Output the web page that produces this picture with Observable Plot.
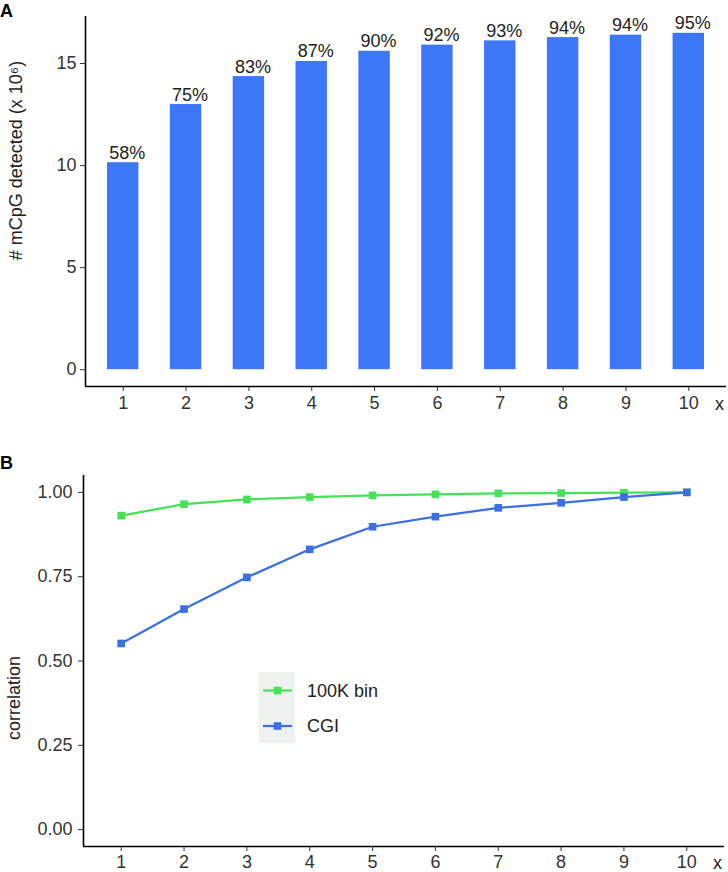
<!DOCTYPE html>
<html><head><meta charset="utf-8">
<script src="https://cdn.jsdelivr.net/npm/d3@7"></script>
<script src="https://cdn.jsdelivr.net/npm/@observablehq/plot@0.6"></script>
<style>
body{margin:0;background:#fff;}
#wrap{position:relative;width:728px;height:872px;font-family:"Liberation Sans",Arial,sans-serif;}
.panel{position:absolute;left:0;}
#overlay{position:absolute;left:0;top:0;pointer-events:none;}
</style></head><body>
<div id="wrap">
  <div class="panel" id="pa" style="top:0"></div>
  <div class="panel" id="pb" style="top:420px"></div>
</div>
<script>
// ---- data ----
const xs = [1, 2, 3, 4, 5, 6, 7, 8, 9, 10];
const counts = [10.14, 12.99, 14.36, 15.10, 15.60, 15.90, 16.11, 16.27, 16.39, 16.48];
const pctLabels = ["58%", "75%", "83%", "87%", "90%", "92%", "93%", "94%", "94%", "95%"];
const seriesNames = ["100K bin", "CGI"];
const bin100k = [0.931, 0.965, 0.979, 0.986, 0.991, 0.994, 0.997, 0.998, 0.999, 1.000];
const cgi = [0.552, 0.654, 0.748, 0.831, 0.898, 0.928, 0.954, 0.969, 0.986, 1.000];
const seriesColors = ["#46e256", "#3a70e2"];
const ticksA = [0, 5, 10, 15];
const ticksB = [0, 0.25, 0.5, 0.75, 1];
const yLabelA = "# mCpG detected (x 10\u2076)";
const yLabelB = "correlation";
const xLabel = "x";

const FONT = '"Liberation Sans", Arial, sans-serif';
const dataA = xs.map((x, i) => ({x, v: counts[i], pct: pctLabels[i]}));
const dataB = [
  ...xs.map((x, i) => ({x, v: bin100k[i], series: seriesNames[0]})),
  ...xs.map((x, i) => ({x, v: cgi[i], series: seriesNames[1]}))
];
const xDom = [xs[0] - 0.6, xs[xs.length - 1] + 0.6];
const maxA = d3.max(counts);
const yDomA = [-0.05 * maxA, 1.05 * maxA];
const yDomB = [-0.05, 1.05];

const chartA = Plot.plot({
  width: 728, height: 420,
  marginLeft: 85, marginRight: 2, marginTop: 16, marginBottom: 34,
  style: {fontFamily: FONT, fontSize: "18px", color: "#333", background: "transparent", overflow: "visible"},
  x: {domain: xDom},
  y: {domain: yDomA},
  marks: [
    Plot.rect(dataA, {x1: d => d.x - 0.25, x2: d => d.x + 0.25, y1: 0, y2: "v", fill: "#3b77f7"}),
    Plot.text(dataA, {x: "x", y: "v", text: "pct", lineAnchor: "bottom", dy: -4, dx: 4, fontSize: 18, fill: "#222"}),
    Plot.axisY({ticks: ticksA, tickSize: 5, tickPadding: 4, label: null, fontSize: 18}),
    Plot.axisX({ticks: xs, tickSize: 5, tickPadding: 5, label: null, fontSize: 18, tickFormat: d => d}),
    Plot.ruleX([xDom[0]], {stroke: "#000", strokeWidth: 1.6}),
    Plot.ruleY([yDomA[0]], {stroke: "#000", strokeWidth: 1.6}),
    Plot.text([xLabel], {frameAnchor: "bottom-right", textAnchor: "middle", lineAnchor: "bottom", dx: -7, dy: 23, fontSize: 18, fill: "#222"}),
    Plot.text([yLabelA], {frameAnchor: "left", rotate: -90, textAnchor: "middle", lineAnchor: "middle", dx: -69, dy: -41, fontSize: 18, fill: "#222"})
  ]
});
document.getElementById("pa").appendChild(chartA);

const chartB = Plot.plot({
  width: 728, height: 452,
  marginLeft: 83, marginRight: 4, marginTop: 55, marginBottom: 26,
  style: {fontFamily: FONT, fontSize: "18px", color: "#333", background: "transparent", overflow: "visible"},
  x: {domain: xDom},
  y: {domain: yDomB},
  color: {domain: seriesNames, range: seriesColors},
  marks: [
    Plot.line(dataB, {x: "x", y: "v", z: "series", stroke: "series", strokeWidth: 2.2}),
    Plot.dot(dataB, {x: "x", y: "v", fill: "series", symbol: "square", r: 4.3}),
    Plot.axisY({ticks: ticksB, tickFormat: d3.format(".2f"), tickSize: 5, tickPadding: 6, label: null, fontSize: 18}),
    Plot.axisX({ticks: xs, tickSize: 5, tickPadding: 4, label: null, fontSize: 18, tickFormat: d => d}),
    Plot.ruleX([xDom[0]], {stroke: "#000", strokeWidth: 1.6}),
    Plot.ruleY([yDomB[0]], {stroke: "#000", strokeWidth: 1.6}),
    Plot.text([xLabel], {frameAnchor: "bottom-right", textAnchor: "middle", lineAnchor: "bottom", dx: -7, dy: 22, fontSize: 18, fill: "#222"}),
    Plot.text([yLabelB], {frameAnchor: "left", rotate: -90, textAnchor: "middle", lineAnchor: "middle", dx: -69, dy: 37, fontSize: 18, fill: "#222"})
  ]
});
document.getElementById("pb").appendChild(chartB);

// ---- panel tags and legend overlay ----
const ns = "http://www.w3.org/2000/svg";
const ov = document.createElementNS(ns, "svg");
ov.setAttribute("id", "overlay");
ov.setAttribute("width", 728);
ov.setAttribute("height", 872);
ov.style.fontFamily = FONT;
function el(tag, attrs, text) {
  const e = document.createElementNS(ns, tag);
  for (const k in attrs) e.setAttribute(k, attrs[k]);
  if (text != null) e.textContent = text;
  ov.appendChild(e);
  return e;
}
el("text", {x: 0, y: 17, "font-size": 18, "font-weight": "bold", fill: "#000"}, "A");
el("text", {x: 0, y: 469, "font-size": 18, "font-weight": "bold", fill: "#000"}, "B");
el("rect", {x: 259, y: 672, width: 36, height: 71, fill: "#eef2ef"});
const keyY = [690.5, 726];
seriesNames.forEach((name, i) => {
  el("line", {x1: 263, x2: 292, y1: keyY[i], y2: keyY[i], stroke: seriesColors[i], "stroke-width": 2.2});
  el("rect", {x: 277.5 - 3.8, y: keyY[i] - 3.8, width: 7.6, height: 7.6, fill: seriesColors[i]});
  el("text", {x: 307, y: keyY[i], dy: "0.35em", "font-size": 18, fill: "#222"}, name);
});
document.getElementById("wrap").appendChild(ov);
</script>
</body></html>
